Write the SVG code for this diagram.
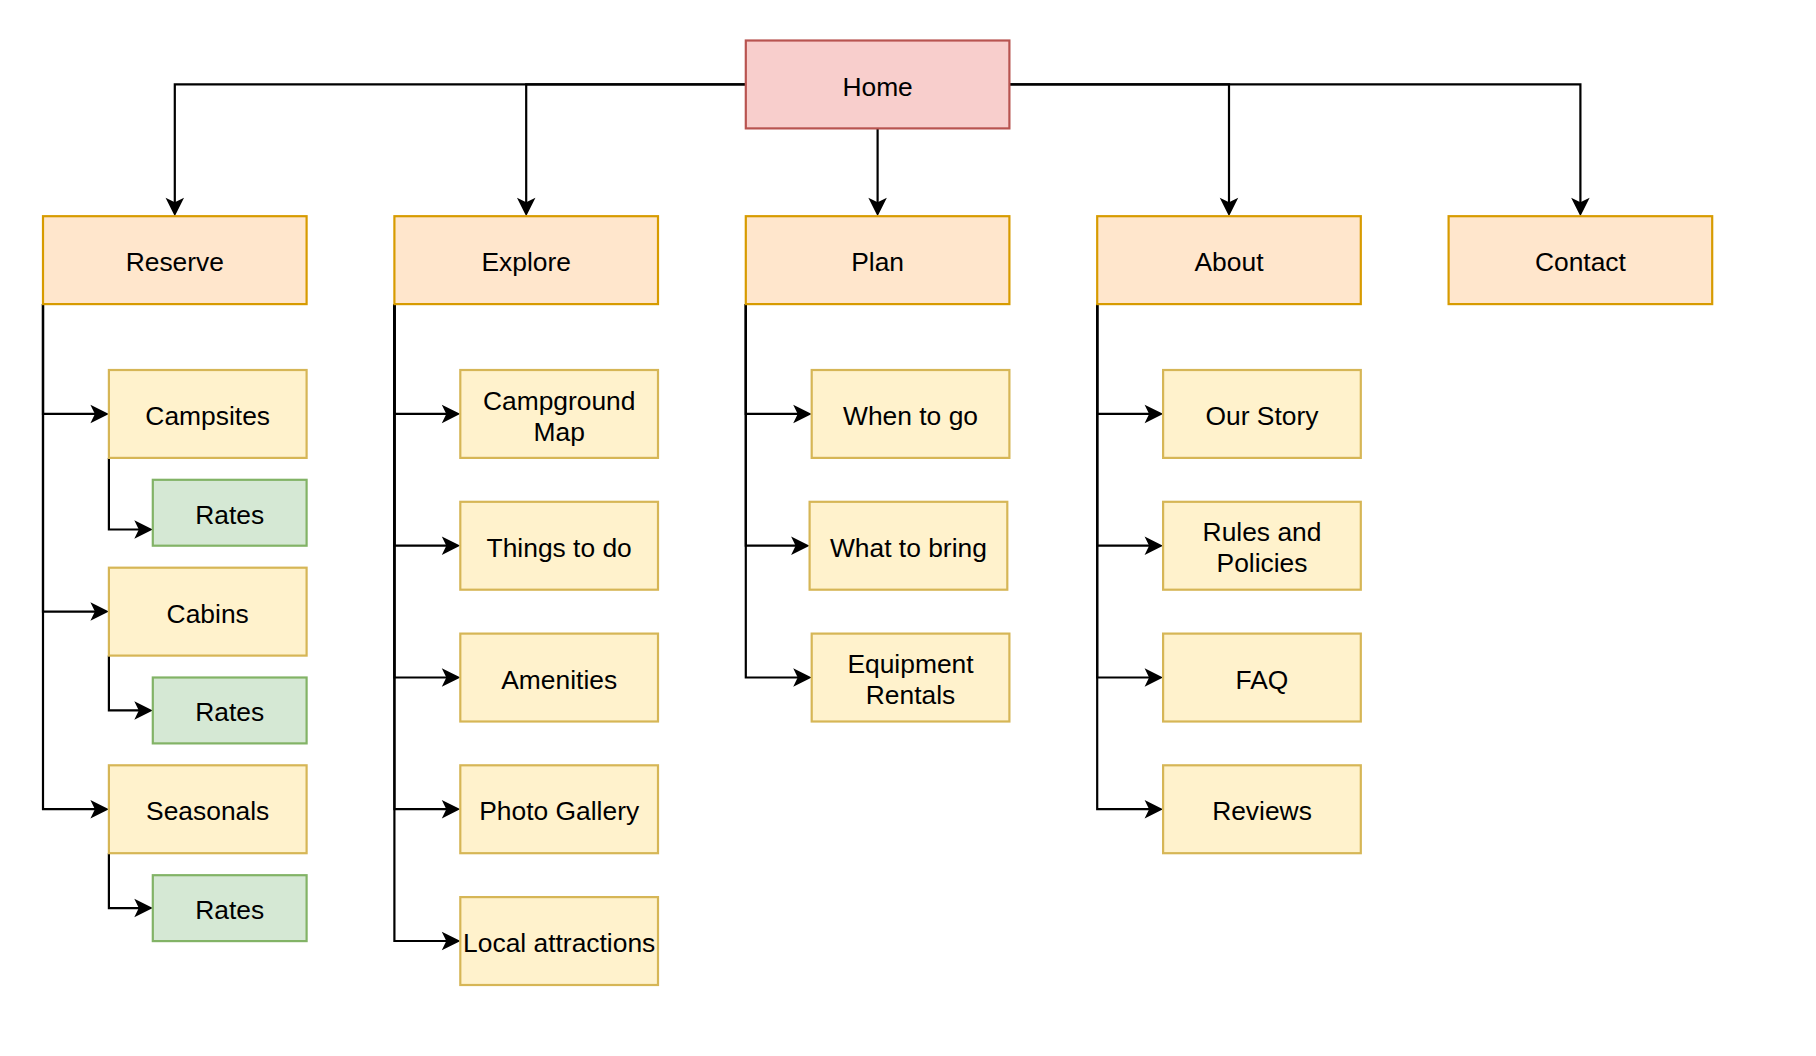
<svg xmlns="http://www.w3.org/2000/svg" width="1816" height="1056" viewBox="0 0 1816 1056">
<defs>
<style>
.t{font-family:"Liberation Sans",Arial,Helvetica,sans-serif;font-size:26.4px;fill:#000;text-anchor:middle;dominant-baseline:central}
.home{fill:#f8cecc;stroke:#b85450;stroke-width:2.2}
.l1{fill:#ffe6cc;stroke:#d79b00;stroke-width:2.2}
.l2{fill:#fff2cc;stroke:#d6b656;stroke-width:2.2}
.r{fill:#d5e8d4;stroke:#82b366;stroke-width:2.2}
.c{fill:none;stroke:#000;stroke-width:2.2;marker-end:url(#arr)}
</style>
<marker id="arr" markerUnits="userSpaceOnUse" markerWidth="20" markerHeight="20" viewBox="0 0 20 20" refX="12" refY="10" orient="auto">
<path d="M20,10 L1.5,0.75 L6,10 L1.5,19.25 Z" fill="#000"/>
</marker>
</defs>
<rect width="1816" height="1056" fill="#fff"/>
<g id="connectors">
<path class="c" d="M746,84.4 H174.8 V208.2"/>
<path class="c" d="M746,84.4 H526.2 V208.2"/>
<path class="c" d="M877.6,128.4 V208.2"/>
<path class="c" d="M1009.4,84.4 H1229 V208.2"/>
<path class="c" d="M1009.4,84.4 H1580.4 V208.2"/>
<path class="c" d="M43,304.1 V413.9 H100.9"/>
<path class="c" d="M43,304.1 V611.6 H100.9"/>
<path class="c" d="M43,304.1 V809.2 H100.9"/>
<path class="c" d="M108.9,457.9 V529.5 H144.8"/>
<path class="c" d="M108.9,655.5 V710.4 H144.8"/>
<path class="c" d="M108.9,853.2 V908.1 H144.8"/>
<path class="c" d="M394.4,304.1 V413.9 H452.3"/>
<path class="c" d="M394.4,304.1 V545.7 H452.3"/>
<path class="c" d="M394.4,304.1 V677.5 H452.3"/>
<path class="c" d="M394.4,304.1 V809.2 H452.3"/>
<path class="c" d="M394.4,304.1 V941 H452.3"/>
<path class="c" d="M745.8,304.1 V413.9 H803.7"/>
<path class="c" d="M745.8,304.1 V545.7 H801.6"/>
<path class="c" d="M745.8,304.1 V677.5 H803.7"/>
<path class="c" d="M1097.2,304.1 V413.9 H1155.1"/>
<path class="c" d="M1097.2,304.1 V545.7 H1155.1"/>
<path class="c" d="M1097.2,304.1 V677.5 H1155.1"/>
<path class="c" d="M1097.2,304.1 V809.2 H1155.1"/>
</g>
<g id="home"><rect class="home" x="745.8" y="40.5" width="263.6" height="87.9"/><text class="t" x="877.6" y="86.5">Home</text></g>
<g id="reserve"><rect class="l1" x="43" y="216.2" width="263.6" height="87.9"/><text class="t" x="174.8" y="262.2">Reserve</text></g>
<g id="explore"><rect class="l1" x="394.4" y="216.2" width="263.6" height="87.9"/><text class="t" x="526.2" y="262.2">Explore</text></g>
<g id="plan"><rect class="l1" x="745.8" y="216.2" width="263.6" height="87.9"/><text class="t" x="877.6" y="262.2">Plan</text></g>
<g id="about"><rect class="l1" x="1097.2" y="216.2" width="263.6" height="87.9"/><text class="t" x="1229" y="262.2">About</text></g>
<g id="contact"><rect class="l1" x="1448.6" y="216.2" width="263.6" height="87.9"/><text class="t" x="1580.4" y="262.2">Contact</text></g>
<g id="campsites"><rect class="l2" x="108.9" y="370" width="197.7" height="87.9"/><text class="t" x="207.7" y="416">Campsites</text></g>
<g id="rates1"><rect class="r" x="152.8" y="479.8" width="153.8" height="65.9"/><text class="t" x="229.7" y="514.8">Rates</text></g>
<g id="cabins"><rect class="l2" x="108.9" y="567.7" width="197.7" height="87.9"/><text class="t" x="207.7" y="613.7">Cabins</text></g>
<g id="rates2"><rect class="r" x="152.8" y="677.5" width="153.8" height="65.9"/><text class="t" x="229.7" y="712.4">Rates</text></g>
<g id="seasonals"><rect class="l2" x="108.9" y="765.3" width="197.7" height="87.9"/><text class="t" x="207.7" y="811.3">Seasonals</text></g>
<g id="rates3"><rect class="r" x="152.8" y="875.2" width="153.8" height="65.9"/><text class="t" x="229.7" y="910.1">Rates</text></g>
<g id="campground-map"><rect class="l2" x="460.3" y="370" width="197.7" height="87.9"/><text class="t" x="559.2" y="400.5">Campground</text><text class="t" x="559.2" y="431.5">Map</text></g>
<g id="things-to-do"><rect class="l2" x="460.3" y="501.8" width="197.7" height="87.9"/><text class="t" x="559.2" y="547.8">Things to do</text></g>
<g id="amenities"><rect class="l2" x="460.3" y="633.6" width="197.7" height="87.9"/><text class="t" x="559.2" y="679.6">Amenities</text></g>
<g id="photo-gallery"><rect class="l2" x="460.3" y="765.3" width="197.7" height="87.9"/><text class="t" x="559.2" y="811.3">Photo Gallery</text></g>
<g id="local-attractions"><rect class="l2" x="460.3" y="897.1" width="197.7" height="87.9"/><text class="t" x="559.2" y="943.1">Local attractions</text></g>
<g id="when-to-go"><rect class="l2" x="811.7" y="370" width="197.7" height="87.9"/><text class="t" x="910.5" y="416">When to go</text></g>
<g id="what-to-bring"><rect class="l2" x="809.6" y="501.8" width="197.7" height="87.9"/><text class="t" x="908.4" y="547.8">What to bring</text></g>
<g id="equipment-rentals"><rect class="l2" x="811.7" y="633.6" width="197.7" height="87.9"/><text class="t" x="910.5" y="664">Equipment</text><text class="t" x="910.5" y="695">Rentals</text></g>
<g id="our-story"><rect class="l2" x="1163.1" y="370" width="197.7" height="87.9"/><text class="t" x="1262" y="416">Our Story</text></g>
<g id="rules-and-policies"><rect class="l2" x="1163.1" y="501.8" width="197.7" height="87.9"/><text class="t" x="1262" y="532.3">Rules and</text><text class="t" x="1262" y="563.3">Policies</text></g>
<g id="faq"><rect class="l2" x="1163.1" y="633.6" width="197.7" height="87.9"/><text class="t" x="1262" y="679.6">FAQ</text></g>
<g id="reviews"><rect class="l2" x="1163.1" y="765.3" width="197.7" height="87.9"/><text class="t" x="1262" y="811.3">Reviews</text></g>
</svg>
